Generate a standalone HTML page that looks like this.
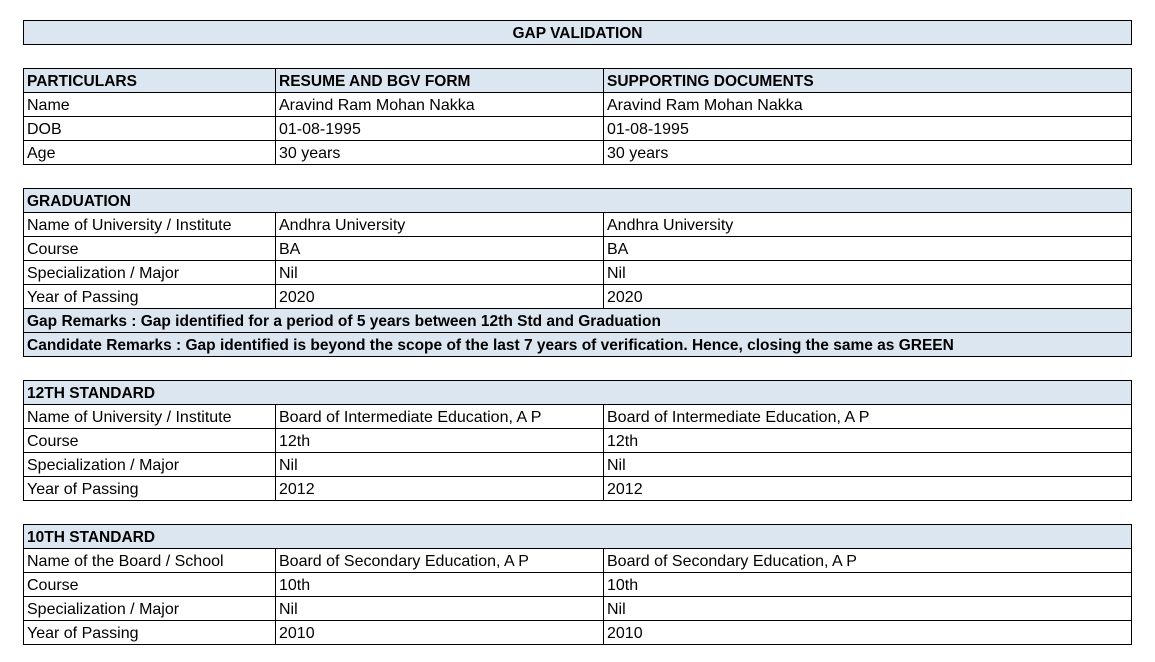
<!DOCTYPE html>
<html><head><meta charset="utf-8"><style>
body{margin:0;width:1155px;height:662px;background:#fff;position:relative;overflow:hidden;font-family:"Liberation Sans",Arial,sans-serif;font-size:16px;color:#000}
.c{position:absolute;box-sizing:border-box;border:1px solid #000;height:25px;line-height:24px;padding-left:3px;padding-top:1px;white-space:nowrap;overflow:hidden}
.h{background:#dce6f1;font-weight:bold;font-size:15.5px}
.t{text-align:center;padding-left:0}
</style></head><body>
<div class="c h t" style="left:23px;top:20px;width:1109px">GAP VALIDATION</div>
<script>
const X=[23,275,603,1131];
let html='';
function row(y,cells,hdr){
  if(cells.length===1){html+=`<div class="c${hdr?' h':''}" style="left:23px;top:${y}px;width:1109px">${cells[0]}</div>`;return;}
  for(let i=0;i<3;i++)html+=`<div class="c${hdr?' h':''}" style="left:${X[i]}px;top:${y}px;width:${X[i+1]-X[i]+1}px">${cells[i]}</div>`;
}
let y=68;
row(y,['PARTICULARS','RESUME AND BGV FORM','SUPPORTING DOCUMENTS'],1);y+=24;
row(y,['Name','Aravind Ram Mohan Nakka','Aravind Ram Mohan Nakka']);y+=24;
row(y,['DOB','01-08-1995','01-08-1995']);y+=24;
row(y,['Age','30 years','30 years']);
y=188;
row(y,['GRADUATION'],1);y+=24;
row(y,['Name of University / Institute','Andhra University','Andhra University']);y+=24;
row(y,['Course','BA','BA']);y+=24;
row(y,['Specialization / Major','Nil','Nil']);y+=24;
row(y,['Year of Passing','2020','2020']);y+=24;
row(y,['Gap Remarks : Gap identified for a period of 5 years between 12th Std and Graduation'],1);y+=24;
row(y,['Candidate Remarks : Gap identified is beyond the scope of the last 7 years of verification. Hence, closing the same as GREEN'],1);
y=380;
row(y,['12TH STANDARD'],1);y+=24;
row(y,['Name of University / Institute','Board of Intermediate Education, A P','Board of Intermediate Education, A P']);y+=24;
row(y,['Course','12th','12th']);y+=24;
row(y,['Specialization / Major','Nil','Nil']);y+=24;
row(y,['Year of Passing','2012','2012']);
y=524;
row(y,['10TH STANDARD'],1);y+=24;
row(y,['Name of the Board / School','Board of Secondary Education, A P','Board of Secondary Education, A P']);y+=24;
row(y,['Course','10th','10th']);y+=24;
row(y,['Specialization / Major','Nil','Nil']);y+=24;
row(y,['Year of Passing','2010','2010']);
document.write(html);
</script>
</body></html>
